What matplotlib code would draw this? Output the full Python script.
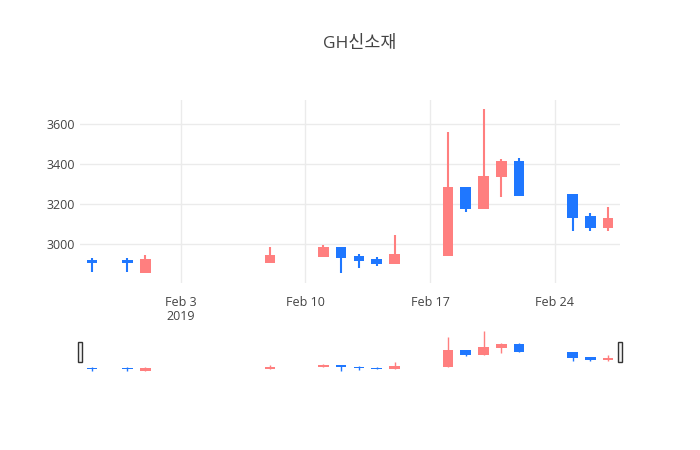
import matplotlib
matplotlib.use("Agg")
import matplotlib.pyplot as plt
import matplotlib.dates as mdates
import numpy as np
import datetime as dt

plt.rcParams['font.family'] = ['Open Sans', 'Noto Sans CJK KR', 'DejaVu Sans']

dates = ["2019-01-29","2019-01-31","2019-02-01","2019-02-08","2019-02-11","2019-02-12",
         "2019-02-13","2019-02-14","2019-02-15","2019-02-18","2019-02-19","2019-02-20",
         "2019-02-21","2019-02-22","2019-02-25","2019-02-26","2019-02-27"]
opens  = [2920,2920,2857,2907,2937,2985,2942,2925,2900,2942,3283,3175,3333,3417,3248,3140,3082]
highs  = [2928,2928,2945,2987,2995,2985,2950,2933,3045,3558,3283,3673,3425,3432,3248,3153,3183]
lows   = [2862,2862,2857,2907,2937,2857,2882,2888,2900,2942,3158,3175,3233,3238,3065,3067,3067]
closes = [2905,2905,2925,2945,2985,2932,2917,2900,2950,3283,3175,3342,3417,3238,3132,3082,3132]

UP = '#FF7F7F'; DOWN = '#1F77FF'
d = mdates.date2num([dt.datetime.strptime(s, "%Y-%m-%d") for s in dates])
xmin = mdates.date2num(dt.datetime(2019,1,28,8))
xmax = mdates.date2num(dt.datetime(2019,2,27,16))

fig = plt.figure(figsize=(7, 4.5), dpi=100)
ax = fig.add_axes([80/700, 1-283/450, 540/700, 183/450])
rs = fig.add_axes([80/700, 1-372/450, 540/700, 42/450])

def draw(a, lw):
    for x, o, h, l, c in zip(d, opens, highs, lows, closes):
        col = UP if c >= o else DOWN
        a.vlines(x, l, h, color=col, lw=lw, zorder=3)
        a.bar(x, abs(c-o) if abs(c-o) > 0 else 1, bottom=min(o, c), width=0.6, color=col, zorder=3)

draw(ax, 1.5)
ax.set_xlim(xmin, xmax)
ax.set_ylim(2805, 3720)
ax.set_yticks([3000, 3200, 3400, 3600])
ax.set_yticklabels(['3000', '3200', '3400', '3600'])
ticks = [dt.datetime(2019,2,3), dt.datetime(2019,2,10), dt.datetime(2019,2,17), dt.datetime(2019,2,24)]
ax.set_xticks(mdates.date2num(ticks))
ax.set_xticklabels(['Feb 3\n2019', 'Feb 10', 'Feb 17', 'Feb 24'])
ax.grid(True, color='#EBEBEB', lw=1, zorder=0)
for s in ax.spines.values():
    s.set_visible(False)
ax.tick_params(length=0, colors='#444444', labelsize=9)
ax.tick_params(axis='x', pad=9)

draw(rs, 1.0)
rs.set_xlim(xmin, xmax)
rs.set_ylim(2835, 3700)
rs.set_xticks([]); rs.set_yticks([])
for s in rs.spines.values():
    s.set_visible(False)
for xx in (xmin, xmax):
    rs.add_patch(plt.Rectangle((xx - 0.12, 3050), 0.24, 400, facecolor='#f2f2f2',
                               edgecolor='#333333', lw=1, clip_on=False, zorder=5))

fig.text(360/700, 1-44/450, 'GH신소재', ha='center', va='center', fontsize=12.5, color='#444444')
fig.savefig('out.png', dpi=100)
